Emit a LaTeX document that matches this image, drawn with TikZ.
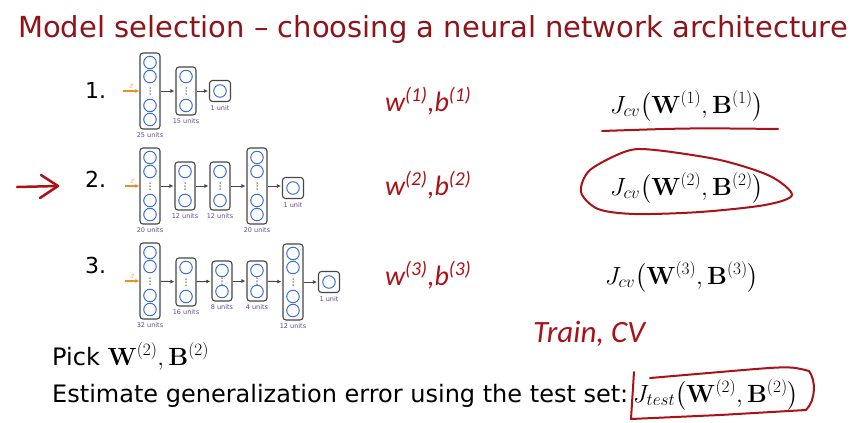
\documentclass[tikz,border=0pt]{standalone}
\usepackage{amsmath}
\usepackage{amssymb}
\usepackage[no-math]{fontspec}
\setmainfont{DejaVu Sans}
\newfontfamily\handfont{Carlito}
\DeclareMathSizes{24}{24}{17}{13}
\usetikzlibrary{arrows.meta, positioning}

\definecolor{titlered}{RGB}{140,20,26}
\definecolor{penred}{RGB}{170,18,24}
\definecolor{neuronblue}{RGB}{60,112,215}
\definecolor{labelpurple}{RGB}{100,72,150}
\definecolor{feedorange}{RGB}{232,145,35}
\definecolor{boxgrey}{RGB}{70,70,70}

\tikzset{layerbox/.style = {draw = boxgrey, line width = 1.1pt, rounded corners = 3pt, fill = white, minimum width = 20pt, inner sep = 0pt}}
\tikzset{neuron/.style = {shape = circle, draw = neuronblue, line width = 1pt, minimum size = 12.5pt, inner sep = 0pt}}
\tikzset{unitlabel/.style = {text = labelpurple, font = \fontsize{6.5}{7}\selectfont, inner sep = 0pt}}
\tikzset{flow/.style = {draw = boxgrey, line width = 1pt, -{Latex[length = 4pt, width = 4pt]}, shorten > = 1pt}}
\tikzset{feed/.style = {draw = feedorange, line width = 1.2pt, -{Latex[length = 4pt, width = 4pt]}}}
\tikzset{xvec/.style = {text = feedorange, font = \fontsize{6}{6}\selectfont, inner sep = 0pt}}
\tikzset{pen/.style = {draw = penred, line width = 2pt, line cap = round, line join = round}}
\tikzset{hand/.style = {text = penred, font = \handfont\itshape\fontsize{28}{30}\selectfont, inner sep = 0pt, anchor = base west}}
\tikzset{cost/.style = {font = \fontsize{24}{28}\selectfont, inner sep = 0pt, anchor = base west}}
\tikzset{body/.style = {font = \fontsize{24}{28}\selectfont, inner sep = 0pt, anchor = base west}}
\tikzset{num/.style = {font = \fontsize{22}{26}\selectfont, inner sep = 0pt, anchor = base west}}

% layer with four neurons and dots
\newcommand{\widelayer}[3]{%
  \node[layerbox, minimum height = 76pt] (#1) at (#2, #3) {};
  \foreach \k/\off in {1/-28.5, 2/-14.5, 3/14.5, 4/28.5}
    {\node[neuron] (#1-\k) at (#2, #3 + \off) {};}
  \foreach \j in {-3, 0, 3}
    {\fill[boxgrey] (#2, #3 + \j) circle (0.75pt);}
}
% layer with two neurons and dots
\newcommand{\midlayer}[4]{%
  \node[layerbox, minimum height = #4pt] (#1) at (#2, #3) {};
  \pgfmathsetmacro\gapy{#4/2 - 9.5}
  \node[neuron] (#1-1) at (#2, #3 - \gapy) {};
  \node[neuron] (#1-2) at (#2, #3 + \gapy) {};
  \foreach \j in {-3, 0, 3}
    {\fill[boxgrey] (#2, #3 + \j) circle (0.75pt);}
}
% output layer, one neuron
\newcommand{\onelayer}[3]{%
  \node[layerbox, minimum height = 21pt, minimum width = 21pt] (#1) at (#2, #3) {};
  \node[neuron] (#1-1) at (#2, #3) {};
}

\begin{document}
\begin{tikzpicture}[x = 1pt, y = -1pt]
	\fill[white] (0, 0) rectangle (860, 423);
	\useasboundingbox (0, 0) rectangle (860, 423);

	\node[anchor = base west, inner sep = 0pt, text = titlered, font = \fontsize{29}{34}\selectfont] (title) at (18, 37) {Model selection – choosing a neural network architecture};

	% network 1
	\node[num] (num1) at (85, 98) {1.};
	\widelayer{n1a}{150}{91}
	\midlayer{n1b}{186}{91}{48}
	\onelayer{n1c}{220}{91}
	\node[unitlabel, below = 3pt of n1a] (n1a-l) {25 units};
	\node[unitlabel, below = 3pt of n1b] (n1b-l) {15 units};
	\node[unitlabel, below = 3pt of n1c] (n1c-l) {1 unit};
	\coordinate (n1-in) at (123, 91);
	\draw[feed] (n1-in) -- node[xvec, above = 2pt] (n1-x) {$\vec{x}$} (n1a);
	\draw[flow] (n1a) -- (n1b);
	\draw[flow] (n1b) -- (n1c);

	% network 2
	\node[num] (num2) at (85, 187) {2.};
	\widelayer{n2a}{150}{186}
	\midlayer{n2b}{185}{186}{48}
	\midlayer{n2c}{220}{186}{48}
	\widelayer{n2d}{257}{186}
	\onelayer{n2e}{293}{188}
	\node[unitlabel, below = 3pt of n2a] (n2a-l) {20 units};
	\node[unitlabel, below = 3pt of n2b] (n2b-l) {12 units};
	\node[unitlabel, below = 3pt of n2c] (n2c-l) {12 units};
	\node[unitlabel, below = 3pt of n2d] (n2d-l) {20 units};
	\node[unitlabel, below = 3pt of n2e] (n2e-l) {1 unit};
	\coordinate (n2-in) at (125, 186);
	\draw[feed] (n2-in) -- node[xvec, above = 2pt] (n2-x) {$\vec{x}$} (n2a);
	\draw[flow] (n2a) -- (n2b);
	\draw[flow] (n2b) -- (n2c);
	\draw[flow] (n2c) -- (n2d);
	\draw[flow] (n2d) -- (n2d -| n2e.west);

	% network 3
	\node[num] (num3) at (85, 273) {3.};
	\widelayer{n3a}{150}{281}
	\midlayer{n3b}{186}{282}{48}
	\midlayer{n3c}{222}{281}{40}
	\midlayer{n3d}{257}{281}{40}
	\widelayer{n3e}{293}{282}
	\onelayer{n3f}{329}{282}
	\node[unitlabel, below = 3pt of n3a] (n3a-l) {32 units};
	\node[unitlabel, below = 3pt of n3b] (n3b-l) {16 units};
	\node[unitlabel, below = 3pt of n3c] (n3c-l) {8 units};
	\node[unitlabel, below = 3pt of n3d] (n3d-l) {4 units};
	\node[unitlabel, below = 3pt of n3e] (n3e-l) {12 units};
	\node[unitlabel, below = 3pt of n3f] (n3f-l) {1 unit};
	\coordinate (n3-in) at (125, 281);
	\draw[feed] (n3-in) -- node[xvec, above = 2pt] (n3-x) {$\vec{x}$} (n3a);
	\draw[flow] (n3a) -- (n3b);
	\draw[flow] (n3b) -- (n3c);
	\draw[flow] (n3c) -- (n3d);
	\draw[flow] (n3d) -- (n3e);
	\draw[flow] (n3e) -- (n3f);

	% parameters and costs
	\node[hand] (wb1) at (385, 111) {w\textsuperscript{(1)},b\textsuperscript{(1)}};
	\node[hand] (wb2) at (385, 195) {w\textsuperscript{(2)},b\textsuperscript{(2)}};
	\node[hand] (wb3) at (385, 285) {w\textsuperscript{(3)},b\textsuperscript{(3)}};
	\node[cost] (jcv1) at (610, 113) {$J_{cv}\bigl(\mathbf{W}^{(1)},\mathbf{B}^{(1)}\bigr)$};
	\node[cost] (jcv2) at (610, 195) {$J_{cv}\bigl(\mathbf{W}^{(2)},\mathbf{B}^{(2)}\bigr)$};
	\node[cost] (jcv3) at (605, 284) {$J_{cv}\bigl(\mathbf{W}^{(3)},\mathbf{B}^{(3)}\bigr)$};
	\node[hand, font = \handfont\itshape\fontsize{31}{33}\selectfont] (trcv) at (533, 342) {Train, CV};

	% pick and test
	\node[body] (pick) at (52, 365) {Pick $\mathbf{W}^{(2)},\mathbf{B}^{(2)}$};
	\node[body] (estim) at (52, 402) {Estimate generalization error using the test set:};
	\node[cost] (jtest) at (633, 402) {$J_{test}\bigl(\mathbf{W}^{(2)},\mathbf{B}^{(2)}\bigr)$};

	% pen marks
	\coordinate (mark-tail) at (17, 187);
	\coordinate (mark-head) at (58, 186);
	\draw[pen, line width = 2.5pt] (mark-tail) -- (mark-head);
	\draw[pen, line width = 2.5pt] ([shift = {(-17, -11)}]mark-head) -- (mark-head) -- ([shift = {(-18, 12)}]mark-head);
	\draw[pen] (602, 131) .. controls (690, 128) .. (778, 129);
	\draw[pen] plot[smooth cycle] coordinates {(627, 151) (655, 150) (720, 160) (770, 176) (792, 195) (765, 205) (700, 212) (635, 214) (598, 209) (581, 192) (590, 170)};
	\draw[pen] (634, 372) -- (631, 419) -- (720, 415) -- (806, 410) .. controls (816, 400) and (816, 380) .. (809, 371) .. controls (790, 366) .. (720, 372) -- (650, 378);
\end{tikzpicture}
\end{document}
